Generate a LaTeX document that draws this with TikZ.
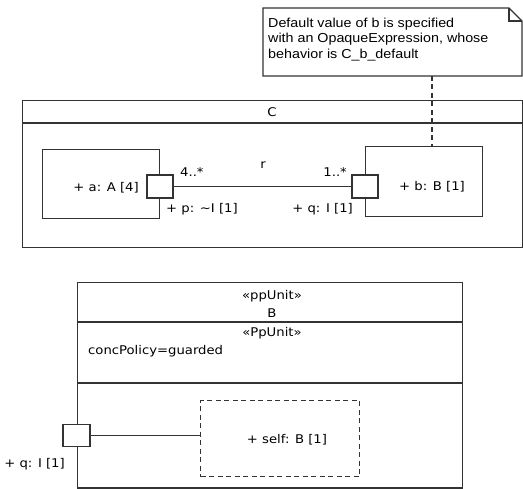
\documentclass[tikz,border=0pt]{standalone}
\usepackage{fontspec}
\setmainfont[FakeStretch=1.1]{DejaVu Sans}
\newfontfamily\notefont[FakeStretch=1.1]{Liberation Sans}
\begin{document}
\begin{tikzpicture}[x=1pt,y=-1pt, line join=miter,
  ln/.style={draw=black!80, line width=1.2pt},
  dsh/.style={ln, dash pattern=on 5pt off 3.5pt},
  lbl/.style={inner sep=0pt, font=\fontsize{12}{14}\selectfont},
  boxnode/.style={ln, anchor=north west, inner sep=0pt},
  portbox/.style={ln, fill=white, inner sep=0pt},
  ]
\useasboundingbox (0,0) rectangle (523,489);

% ---- note ----
\coordinate (n1) at (263,8);
\coordinate (n2) at (509,8);
\coordinate (n3) at (522,21);
\coordinate (n4) at (522,76);
\coordinate (n5) at (263,76);
\coordinate (nf) at (509,21);
\draw[ln] (n1) -- (n2) -- (n3) -- (n4) -- (n5) -- cycle;
\draw[ln] (n2) -- (nf) -- (n3);
\node[inner sep=0pt, anchor=north west, align=left,
      font=\notefont\fontsize{13}{15.5}\selectfont] (notetext) at (268,17.5)
  {Default value of b is specified\\with an OpaqueExpression, whose\\behavior is C\_b\_default};

% ---- class C ----
\node[boxnode, minimum width=500pt, minimum height=147pt] (C) at (22,100) {};
\draw[ln] ([yshift=-23pt]C.north west) -- ([yshift=-23pt]C.north east);
\node[lbl] (Cname) at (272,112) {C};

\node[boxnode, minimum width=117pt, minimum height=69pt] (a) at (42,149) {};
\node[boxnode, minimum width=117pt, minimum height=70pt] (b) at (365,146) {};
\node[portbox, minimum width=26pt, minimum height=23pt] (p) at (160,186.5) {};
\node[portbox, minimum width=26pt, minimum height=23pt] (q) at (365,186.5) {};
\draw[ln] (p.east) -- (q.west);

\node[lbl, anchor=east] (alab) at (139,188) {+ a: A [4]};
\node[lbl, anchor=west] (blab) at (399,187) {+ b: B [1]};
\node[lbl, anchor=west] (plab) at (166,209) {+ p: \textasciitilde I [1]};
\node[lbl, anchor=east] (qlab) at (353,209) {+ q: I [1]};
\node[lbl, anchor=west] (pmul) at (180,172) {4..*};
\node[lbl, anchor=east] (qmul) at (347,172) {1..*};
\node[lbl] (rlab) at (263,165) {r};

\coordinate (nb) at (432,76);
\draw[dsh] (nb) -- (nb |- b.north);

% ---- class B ----
\node[boxnode, minimum width=385pt, minimum height=205.5pt] (Bx) at (77,282) {};
\draw[ln] ([yshift=-40pt]Bx.north west) -- ([yshift=-40pt]Bx.north east);
\draw[ln] ([yshift=-101pt]Bx.north west) -- ([yshift=-101pt]Bx.north east);
\node[lbl] (st1) at (272,296) {«ppUnit»};
\node[lbl] (Bname) at (272,313) {B};
\node[lbl] (st2) at (272,333) {«PpUnit»};
\node[lbl, anchor=west] (conc) at (88,351) {concPolicy=guarded};

\node[boxnode, dsh, minimum width=159pt, minimum height=76pt] (self) at (200,400) {};
\node[lbl] (selflab) at (287,440) {+ self: B [1]};
\node[portbox, minimum width=27pt, minimum height=22pt] (q2) at (76.5,435.5) {};
\draw[ln] (q2.east) -- (q2.east -| self.west);
\node[lbl, anchor=east] (q2lab) at (65,464) {+ q: I [1]};
\end{tikzpicture}
\end{document}
